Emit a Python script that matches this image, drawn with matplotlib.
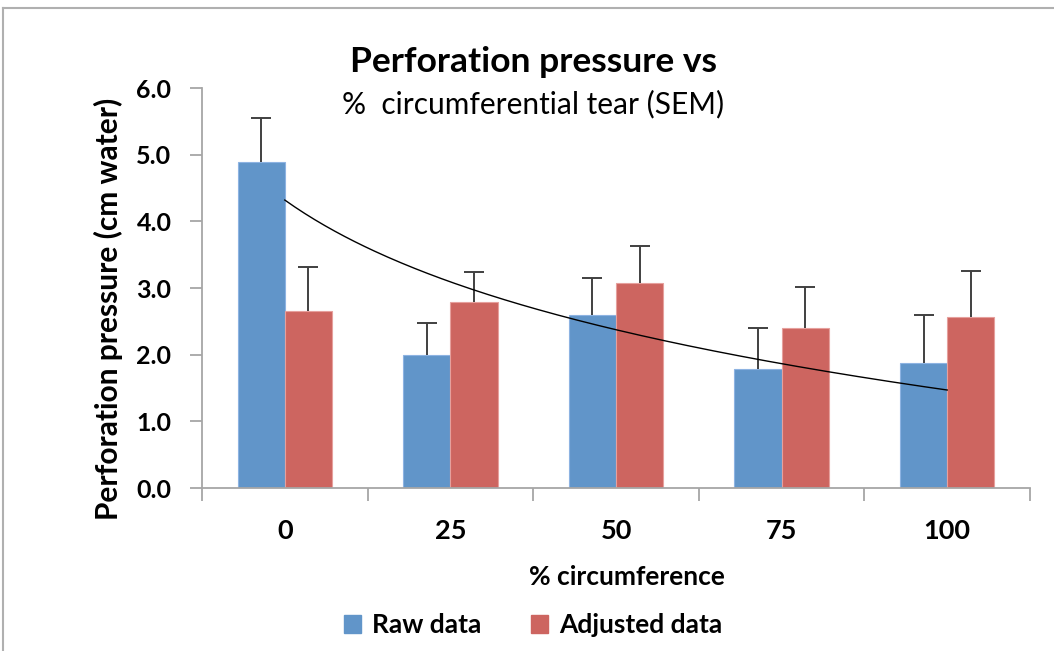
import numpy as np
import matplotlib.pyplot as plt
from matplotlib.lines import Line2D
from matplotlib.patches import Patch

plt.rcParams["font.family"] = ["Lato", "DejaVu Sans"]

# data
categories = ["0", "25", "50", "75", "100"]
raw_data = [4.89, 1.99, 2.59, 1.78, 1.87]
raw_sem = [0.66, 0.48, 0.56, 0.62, 0.73]
adjusted_data = [2.65, 2.79, 3.08, 2.40, 2.56]
adjusted_sem = [0.66, 0.45, 0.55, 0.62, 0.69]

BLUE = "#6195C9"
RED = "#CD6560"
AXIS_GRAY = "#A6A6A6"
ERR_COLOR = "#404040"


def upper_error_bars(ax, xpos, values, errors):
    """Excel-style 'plus' error bars: a stem and a cap, no lower cap."""
    tops = np.asarray(values) + np.asarray(errors)
    ax.vlines(xpos, values, tops, color=ERR_COLOR, lw=1.4, zorder=3)
    ax.plot(xpos, tops, ls="none", marker="_", ms=15, mew=1.4,
            color=ERR_COLOR, zorder=3)


def main():
    fig = plt.figure(figsize=(10.54, 6.51), dpi=100)
    W, H = 1054, 651

    # light frame round the chart area (Excel chart border)
    fig.add_artist(Line2D([3 / W, 1], [1 - 8 / H, 1 - 8 / H],
                          color="#B0B0B0", lw=1.5, transform=fig.transFigure))
    fig.add_artist(Line2D([3 / W, 3 / W], [0, 1 - 8 / H],
                          color="#B0B0B0", lw=1.5, transform=fig.transFigure))

    ax = fig.add_axes([202 / W, 1 - 488 / H, (1030 - 202) / W, 400 / H])

    x = np.arange(len(categories))
    width = 0.285

    ax.bar(x - width / 2, raw_data, width, color=BLUE,
           edgecolor="#8DB3E2", linewidth=0.8, zorder=2)
    ax.bar(x + width / 2, adjusted_data, width, color=RED,
           edgecolor="#E6A09D", linewidth=0.8, zorder=2)

    upper_error_bars(ax, x - width / 2, raw_data, raw_sem)
    upper_error_bars(ax, x + width / 2, adjusted_data, adjusted_sem)

    # logarithmic trendline on the raw series (Excel style, x = 1..n)
    n = np.arange(1, len(categories) + 1)
    b, a = np.polyfit(np.log(n), raw_data, 1)
    t = np.linspace(1, len(categories), 200)
    ax.plot(t - 1, a + b * np.log(t), color="black", lw=1.0, zorder=4)

    ax.set_xlim(-0.5, len(categories) - 0.5)
    ax.set_ylim(0, 6)
    ax.set_yticks(np.arange(0, 6.1, 1.0))
    ax.set_yticklabels([f"{v:.1f}" for v in np.arange(0, 6.1, 1.0)],
                       fontsize=18, fontweight="bold")

    ax.set_xticks(np.arange(-0.5, len(categories), 1.0))
    ax.set_xticklabels([])
    ax.set_xticks(x, minor=True)
    ax.set_xticklabels(categories, minor=True, fontsize=19.5,
                       fontweight="bold")
    ax.tick_params(axis="x", which="minor", length=0, pad=22)
    ax.tick_params(axis="x", which="major", length=9, width=1.3,
                   color=AXIS_GRAY, direction="out")
    ax.tick_params(axis="y", length=9, width=1.3, color=AXIS_GRAY,
                   direction="out", pad=13)

    for side in ["top", "right"]:
        ax.spines[side].set_visible(False)
    for side in ["left", "bottom"]:
        ax.spines[side].set_color(AXIS_GRAY)
        ax.spines[side].set_linewidth(1.3)

    fig.text(533 / W, 1 - 62 / H, "Perforation pressure vs", ha="center",
             va="center", fontsize=25.5, fontweight="bold")
    fig.text(533 / W, 1 - 104 / H, "%  circumferential tear (SEM)",
             ha="center", va="center", fontsize=21.5)

    fig.text(627 / W, 1 - 577 / H, "% circumference", ha="center",
             va="center", fontsize=19, fontweight="bold")
    fig.text(108 / W, 1 - 309 / H, "Perforation pressure (cm water)",
             ha="center", va="center", rotation=90, fontsize=21.5,
             fontweight="bold")

    handles = [Patch(facecolor=BLUE, edgecolor=BLUE),
               Patch(facecolor=RED, edgecolor=RED)]
    fig.legend(handles, ["Raw data", "Adjusted data"], ncol=2,
               loc="center", bbox_to_anchor=(533 / W, 1 - 625 / H),
               frameon=False, prop={"size": 19, "weight": "bold"},
               handlelength=0.65, handleheight=0.65, handletextpad=0.4,
               columnspacing=1.9)

    fig.savefig("out.png", dpi=100)


if __name__ == "__main__":
    main()
